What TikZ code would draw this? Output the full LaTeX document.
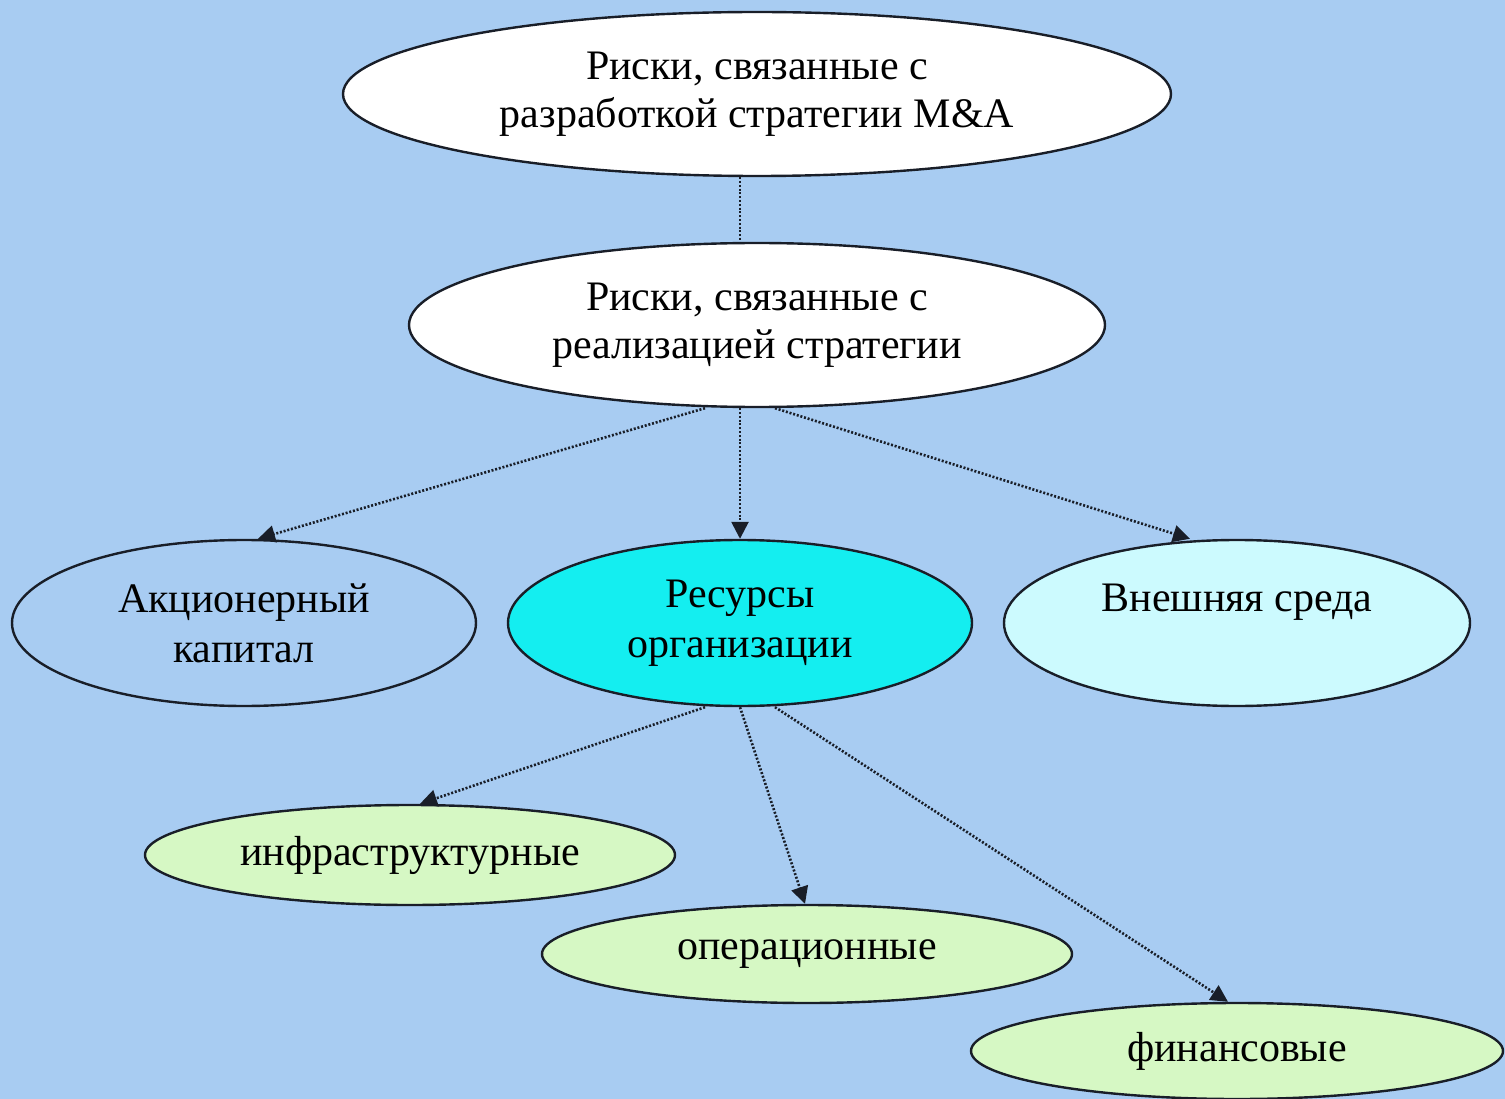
\documentclass[tikz,border=0pt]{standalone}
\usepackage{fontspec}
\setmainfont{Liberation Serif}
\usetikzlibrary{shapes.geometric,arrows.meta}
\definecolor{bgblue}{RGB}{168,204,242}
\definecolor{rescyan}{RGB}{20,238,240}
\definecolor{envcyan}{RGB}{204,250,254}
\definecolor{lgreen}{RGB}{214,248,196}
\definecolor{edge}{RGB}{25,30,40}
\begin{document}
\begin{tikzpicture}[x=1pt,y=-1pt,
  oval/.style={ellipse,draw=edge,line width=2.4pt,inner sep=0pt,align=center,
    font=\fontsize{42}{50}\selectfont,text=black},
  link/.style={draw=edge,line width=2.6pt,dash pattern=on 2pt off 1.8pt},
  arr/.style={link,-{Triangle[length=17pt,width=17pt]}}]
\fill[bgblue] (0,0) rectangle (1505,1099);
\useasboundingbox (0,0) rectangle (1505,1099);
\node[oval,fill=white,minimum width=828,minimum height=164] (top) at (757,94)
  {Риски, связанные с\\[-2pt]разработкой стратегии M\&A};
\node[oval,fill=white,minimum width=696,minimum height=164] (real) at (757,325)
  {Риски, связанные с\\[-2pt]реализацией стратегии};
\node[oval,minimum width=464,minimum height=166] (akc) at (244,623)
  {Акционерный\\капитал};
\node[oval,fill=rescyan,minimum width=464,minimum height=166] (res) at (740,623)
  {Ресурсы\\организации};
\node[oval,fill=envcyan,minimum width=466,minimum height=166] (env) at (1237,623)
  {Внешняя среда\\\mbox{}};
\node[oval,fill=lgreen,minimum width=530,minimum height=100] (inf) at (410,855)
  {инфраструктурные};
\node[oval,fill=lgreen,minimum width=530,minimum height=98] (oper) at (807,954)
  {операционные};
\node[oval,fill=lgreen,minimum width=532,minimum height=96] (fin) at (1237,1051)
  {финансовые};
\draw[link] ([xshift=-17pt]top.south) -- ([xshift=-17pt]real.north);
\draw[arr] ([xshift=-52pt]real.south) -- ([xshift=14pt]akc.north);
\draw[arr] ([xshift=-17pt]real.south) -- (res.north);
\draw[arr] ([xshift=18pt]real.south) -- ([xshift=-47pt]env.north);
\draw[arr] ([xshift=-35pt]res.south) -- ([xshift=10pt]inf.north);
\draw[arr] (res.south) -- ([xshift=-2pt]oper.north);
\draw[arr] ([xshift=35pt]res.south) -- ([xshift=-9pt]fin.north);
\end{tikzpicture}
\end{document}
